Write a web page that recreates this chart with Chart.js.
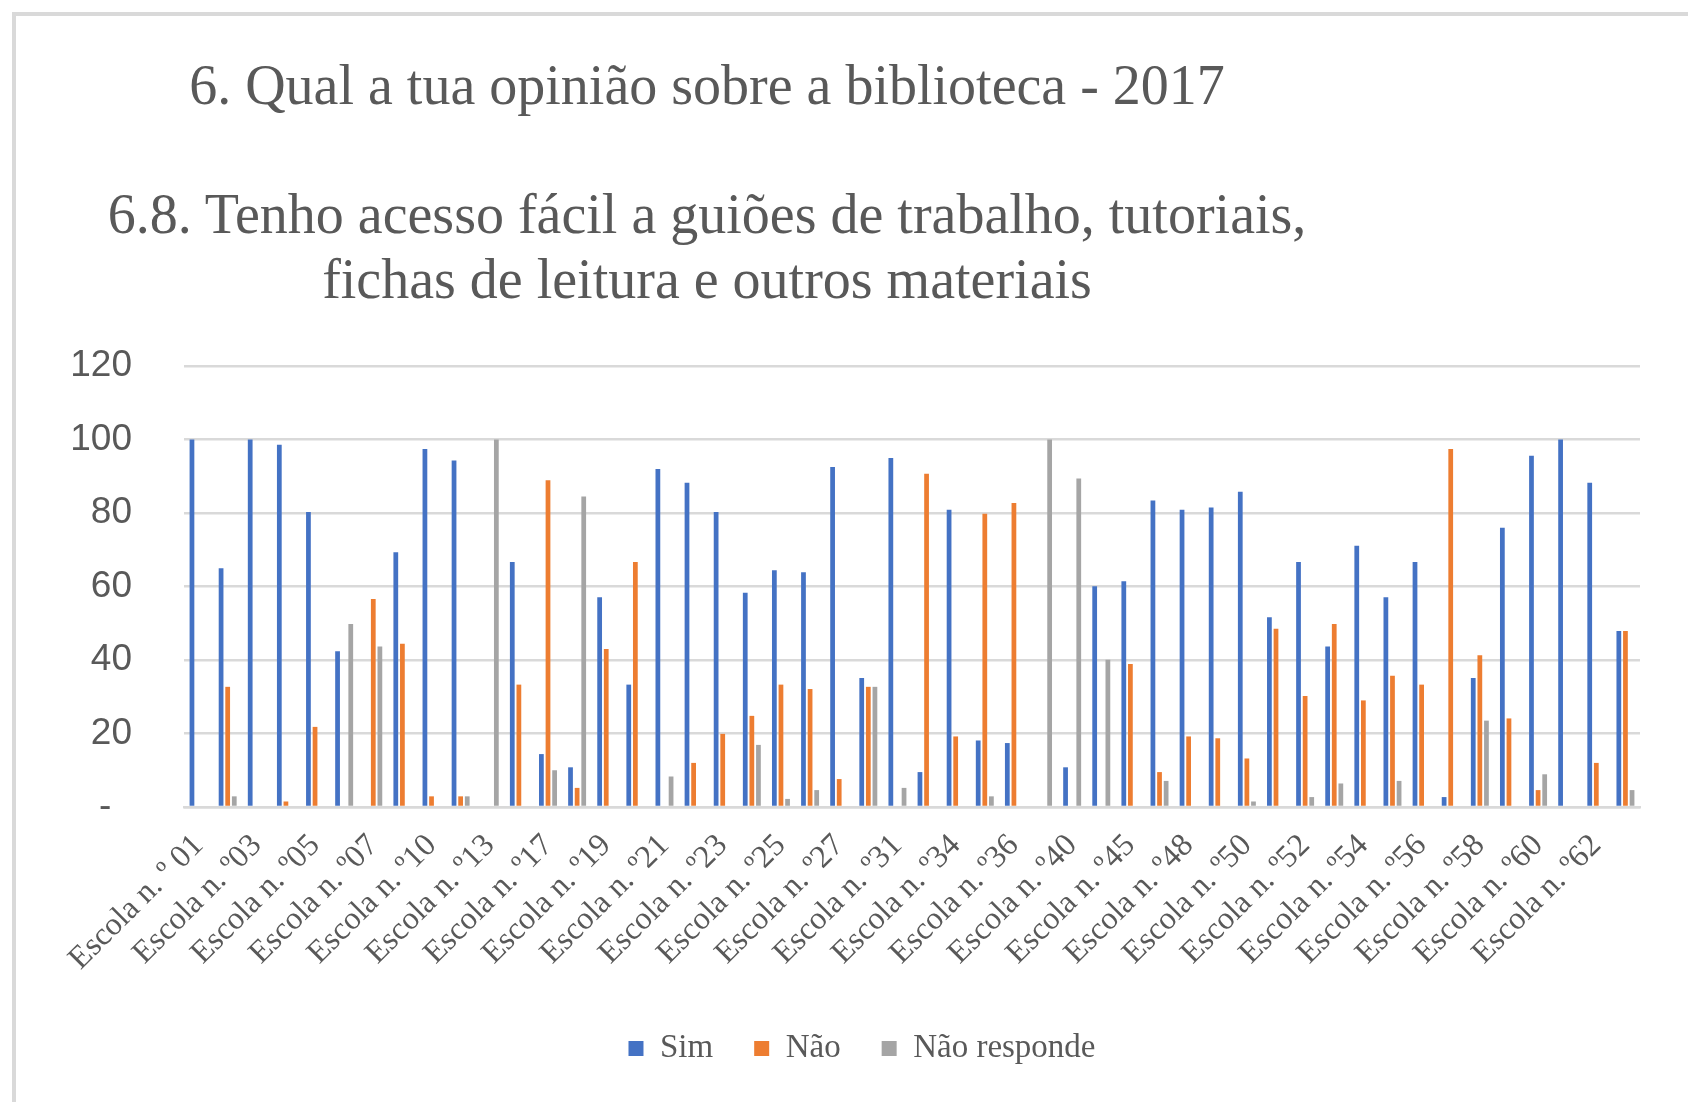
<!DOCTYPE html>
<html>
<head>
<meta charset="utf-8">
<script src="https://cdn.jsdelivr.net/npm/chart.js@4.4.1/dist/chart.umd.min.js"></script>
<style>
  html, body { margin:0; padding:0; background:#fff; overflow:hidden; }
  body { width:1688px; height:1102px; position:relative; }
  .frame { position:absolute; left:12px; top:12px; width:2000px; height:2000px; border:4px solid #d9d9d9; }
  .wrap { position:absolute; left:0; top:0; width:1688px; height:1102px; }
  .ttl { position:absolute; left:0; width:1414px; text-align:center; font-family:'Liberation Serif','Times New Roman',serif; font-size:56px; line-height:56px; color:#595959; white-space:nowrap; }
</style>
</head>
<body>
<div class="frame"></div>
<div class="ttl" style="top:57px">6. Qual a tua opinião sobre a biblioteca - 2017</div>
<div class="ttl" style="top:186px">6.8. Tenho acesso fácil a guiões de trabalho, tutoriais,</div>
<div class="ttl" style="top:251px">fichas de leitura e outros materiais</div>
<div class="wrap"><canvas id="chart"></canvas></div>

<script>
/* ── Data ── */
const schools = [
  'Escola n. º 01','Escola n. º02','Escola n. º03','Escola n. º04','Escola n. º05',
  'Escola n. º06','Escola n. º07','Escola n. º08','Escola n. º10','Escola n. º11',
  'Escola n. º13','Escola n. º14','Escola n. º17','Escola n. º18','Escola n. º19',
  'Escola n. º20','Escola n. º21','Escola n. º22','Escola n. º23','Escola n. º24',
  'Escola n. º25','Escola n. º26','Escola n. º27','Escola n. º28','Escola n. º31',
  'Escola n. º32','Escola n. º34','Escola n. º35','Escola n. º36','Escola n. º37',
  'Escola n. º40','Escola n. º41','Escola n. º45','Escola n. º46','Escola n. º48',
  'Escola n. º49','Escola n. º50','Escola n. º51','Escola n. º52','Escola n. º53',
  'Escola n. º54','Escola n. º55','Escola n. º56','Escola n. º57','Escola n. º58',
  'Escola n. º59','Escola n. º60','Escola n. º61','Escola n. º62','Escola n. º63'
];

const sim = [
  100, 65.0, 100, 98.6, 80.3, 42.4, 0, 69.3, 97.4, 94.3,
  0, 66.7, 14.4, 10.8, 57.1, 33.3, 92.0, 88.2, 80.3, 58.3,
  64.4, 63.9, 92.5, 35.1, 95.0, 9.5, 80.9, 18.1, 17.4, 0,
  10.8, 60.1, 61.4, 83.4, 80.9, 81.5, 85.8, 51.6, 66.7, 43.7,
  71.1, 57.1, 66.7, 2.7, 35.1, 76.0, 95.6, 100, 88.2, 47.9
];

const nao = [
  0, 32.7, 0, 1.5, 21.8, 0, 56.6, 44.4, 2.9, 2.9,
  0, 33.3, 88.9, 5.2, 43.0, 66.7, 0, 12.0, 19.9, 24.8,
  33.3, 32.1, 7.6, 32.7, 0, 90.7, 19.2, 79.8, 82.7, 0,
  0, 0, 38.9, 9.5, 19.2, 18.7, 13.2, 48.5, 30.2, 49.8,
  29.0, 35.7, 33.3, 97.4, 41.3, 24.1, 4.6, 0, 12.0, 47.9
];

const naoResponde = [
  0, 2.9, 0, 0, 0, 49.8, 43.7, 0, 0, 2.9,
  100, 0, 10.0, 84.5, 0, 0, 8.3, 0, 0, 16.9,
  2.2, 4.6, 0, 32.7, 5.2, 0, 0, 2.9, 0, 100,
  89.4, 40.1, 0, 7.1, 0, 0, 1.5, 0, 2.7, 6.4,
  0, 7.1, 0, 0, 23.5, 0, 8.9, 0, 0, 4.6
];

const yTicks = [0, 20, 40, 60, 80, 100, 120];

/* ── Style ── */
const GREY_TXT = '#595959';
const GRID = '#d9d9d9';
const SERIF = "'Liberation Serif','Times New Roman',serif";

/* shift legend so it sits where the original did */
const legendShift = {
  id: 'legendShift',
  afterLayout(chart) {
    if (chart.legend) { chart.legend.left += 42; chart.legend.right += 42; }
  }
};

new Chart(document.getElementById('chart'), {
  type: 'bar',
  data: {
    labels: schools,
    datasets: [
      { label: 'Sim', data: sim, backgroundColor: '#4472C4' },
      { label: 'Não', data: nao, backgroundColor: '#ED7D31' },
      { label: 'Não responde', data: naoResponde, backgroundColor: '#A5A5A5' }
    ]
  },
  options: {
    responsive: true,
    maintainAspectRatio: false,
    animation: false,
    layout: { padding: { top: 366, left: 0, right: 48, bottom: 27 } },
    datasets: { bar: { categoryPercentage: 0.68, barPercentage: 0.72 } },
    plugins: {
      legend: {
        position: 'bottom',
        labels: { font: { family: SERIF, size: 33 }, color: GREY_TXT, boxWidth: 15, boxHeight: 15, padding: 41 }
      },
      tooltip: { enabled: false }
    },
    scales: {
      x: {
        grid: { display: false },
        border: { color: GRID, width: 2.5 },
        ticks: {
          autoSkip: false, maxRotation: 45, minRotation: 45,
          font: { family: SERIF, size: 32 }, color: GREY_TXT, padding: 12,
          callback(v, i) { return i % 2 === 0 ? this.getLabelForValue(v) : ''; }
        },
        afterFit(scale) { scale.height = 184; }
      },
      y: {
        min: 0, max: 120,
        afterBuildTicks(scale) { scale.ticks = yTicks.map(v => ({ value: v })); },
        grid: { color: GRID, lineWidth: 2.5, drawTicks: false },
        border: { display: false },
        ticks: {
          font: { family: "'Liberation Sans',Arial,sans-serif", size: 37 }, color: GREY_TXT, padding: 52,
          callback: v => v === 0 ? '-\u2007' : v
        },
        afterFit(scale) { scale.width = 184; }
      }
    }
  },
  plugins: [legendShift]
});
</script>
</body>
</html>
